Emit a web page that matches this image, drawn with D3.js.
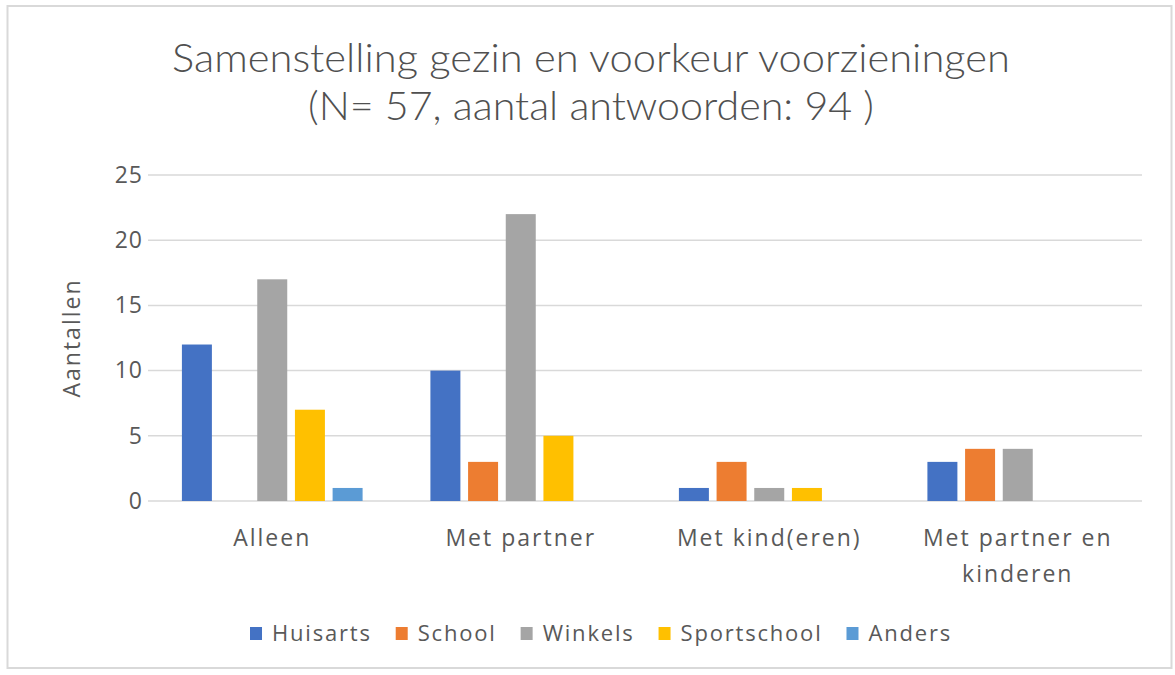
<!DOCTYPE html>
<html>
<head>
<meta charset="utf-8">
<script src="https://cdn.jsdelivr.net/npm/d3@7"></script>
<style>
  body { margin: 0; background: #fff; }
  svg { display: block; }
</style>
</head>
<body>
<div id="chart"></div>
<script>
// chart data
const categories = ['Alleen', 'Met partner', 'Met kind(eren)', 'Met partner en kinderen'];
const seriesNames = ['Huisarts', 'School', 'Winkels', 'Sportschool', 'Anders'];
const huisarts = [12, 10, 1, 3];
const school = [0, 3, 3, 4];
const winkels = [17, 22, 1, 4];
const sportschool = [7, 5, 1, 0];
const anders = [1, 0, 0, 0];
const yTicks = [0, 5, 10, 15, 20, 25];
const titleLines = ['Samenstelling gezin en voorkeur voorzieningen', '(N= 57, aantal antwoorden: 94 )'];
const yTitle = 'Aantallen';

const seriesValues = [huisarts, school, winkels, sportschool, anders];
const colors = ['#4472C4', '#ED7D31', '#A5A5A5', '#FFC000', '#5B9BD5'];

const width = 1175, height = 675;
const plot = { left: 148, right: 1142, top: 175, bottom: 501 };
const textColor = '#595959';
const font = "'Open Sans', 'DejaVu Sans', sans-serif";

const svg = d3.select('#chart').append('svg')
    .attr('width', width)
    .attr('height', height);

// outer frame
svg.append('rect')
    .attr('x', 7.5).attr('y', 6)
    .attr('width', 1164).attr('height', 662)
    .attr('fill', '#fff')
    .attr('stroke', '#d9d9d9')
    .attr('stroke-width', 2);

// title
const titleWidths = [838, 566];
const titleBase = [72, 120];
titleLines.forEach((line, i) => {
    svg.append('text')
        .attr('x', 591)
        .attr('y', titleBase[i])
        .attr('text-anchor', 'middle')
        .attr('textLength', titleWidths[i])
        .attr('lengthAdjust', 'spacingAndGlyphs')
        .style('font-family', "Lato, 'Open Sans', sans-serif")
        .style('font-weight', 300)
        .style('font-size', '40px')
        .style('fill', '#505050')
        .text(line);
});

// scales
const x0 = d3.scaleBand()
    .domain(categories)
    .range([plot.left, plot.right])
    .padding(0);

const x1 = d3.scaleBand()
    .domain(seriesNames)
    .range([0, x0.bandwidth()])
    .paddingInner(0.204)
    .paddingOuter(0.9);

const y = d3.scaleLinear()
    .domain([0, 25])
    .range([plot.bottom, plot.top]);

// gridlines
svg.append('g')
    .selectAll('line')
    .data(yTicks)
    .enter().append('line')
    .attr('x1', plot.left)
    .attr('x2', plot.right)
    .attr('y1', d => y(d))
    .attr('y2', d => y(d))
    .attr('stroke', '#d9d9d9')
    .attr('stroke-width', 1.5);

// y axis labels
const yAxis = d3.axisLeft(y).tickValues(yTicks).tickSize(0).tickPadding(0);
const yAxisG = svg.append('g')
    .attr('transform', `translate(143,0)`)
    .call(yAxis);
yAxisG.select('.domain').remove();
yAxisG.selectAll('text')
    .style('font-family', font)
    .style('font-size', '23px')
    .style('letter-spacing', '1px')
    .style('fill', textColor);

// y axis title
svg.append('text')
    .attr('transform', `translate(80,${(plot.top + plot.bottom) / 2}) rotate(-90)`)
    .attr('text-anchor', 'middle')
    .style('font-family', font)
    .style('font-size', '23px')
    .style('letter-spacing', '2px')
    .style('fill', textColor)
    .text(yTitle);

// bars
const groups = svg.append('g')
    .selectAll('g')
    .data(seriesNames)
    .enter().append('g')
    .attr('fill', (d, i) => colors[i]);

groups.selectAll('rect')
    .data((d, i) => categories.map((c, j) => ({ cat: c, series: d, value: seriesValues[i][j] })))
    .enter().append('rect')
    .attr('x', d => x0(d.cat) + x1(d.series))
    .attr('y', d => y(d.value))
    .attr('width', x1.bandwidth())
    .attr('height', d => y(0) - y(d.value));

// x axis labels (wrap long ones)
const xAxis = d3.axisBottom(x0).tickSize(0).tickPadding(0);
const xAxisG = svg.append('g')
    .attr('transform', `translate(0,${plot.bottom + 45})`)
    .call(xAxis);
xAxisG.select('.domain').remove();
xAxisG.selectAll('text')
    .attr('dy', 0)
    .attr('y', 0)
    .style('font-family', font)
    .style('font-size', '23px')
    .style('letter-spacing', '2px')
    .style('fill', textColor)
    .each(function () { wrap(d3.select(this), 230); });

function wrap(text, maxWidth) {
    const words = text.text().split(/\s+/);
    text.text(null);
    let line = [];
    let tspan = text.append('tspan').attr('x', 0).attr('dy', 0);
    words.forEach(word => {
        line.push(word);
        tspan.text(line.join(' '));
        if (tspan.node().getComputedTextLength() > maxWidth && line.length > 1) {
            line.pop();
            tspan.text(line.join(' '));
            line = [word];
            tspan = text.append('tspan').attr('x', 0).attr('dy', '1.55em').text(word);
        }
    });
}

// legend
const legend = svg.append('g').attr('transform', 'translate(0,641)');
let lx = 0;
const items = [];
seriesNames.forEach((name, i) => {
    const g = legend.append('g');
    g.append('rect')
        .attr('x', 0).attr('y', -14)
        .attr('width', 12).attr('height', 13)
        .attr('fill', colors[i]);
    const t = g.append('text')
        .attr('x', 22)
        .attr('y', 0)
        .style('font-family', font)
        .style('font-size', '22px')
        .style('letter-spacing', '1.8px')
        .style('fill', textColor)
        .text(name);
    const w = 22 + t.node().getComputedTextLength();
    items.push({ g, x: lx });
    lx += w + 24;
});
const legendWidth = lx - 24;
const legendStart = 601 - legendWidth / 2;
items.forEach(it => it.g.attr('transform', `translate(${legendStart + it.x},0)`));
</script>
</body>
</html>
